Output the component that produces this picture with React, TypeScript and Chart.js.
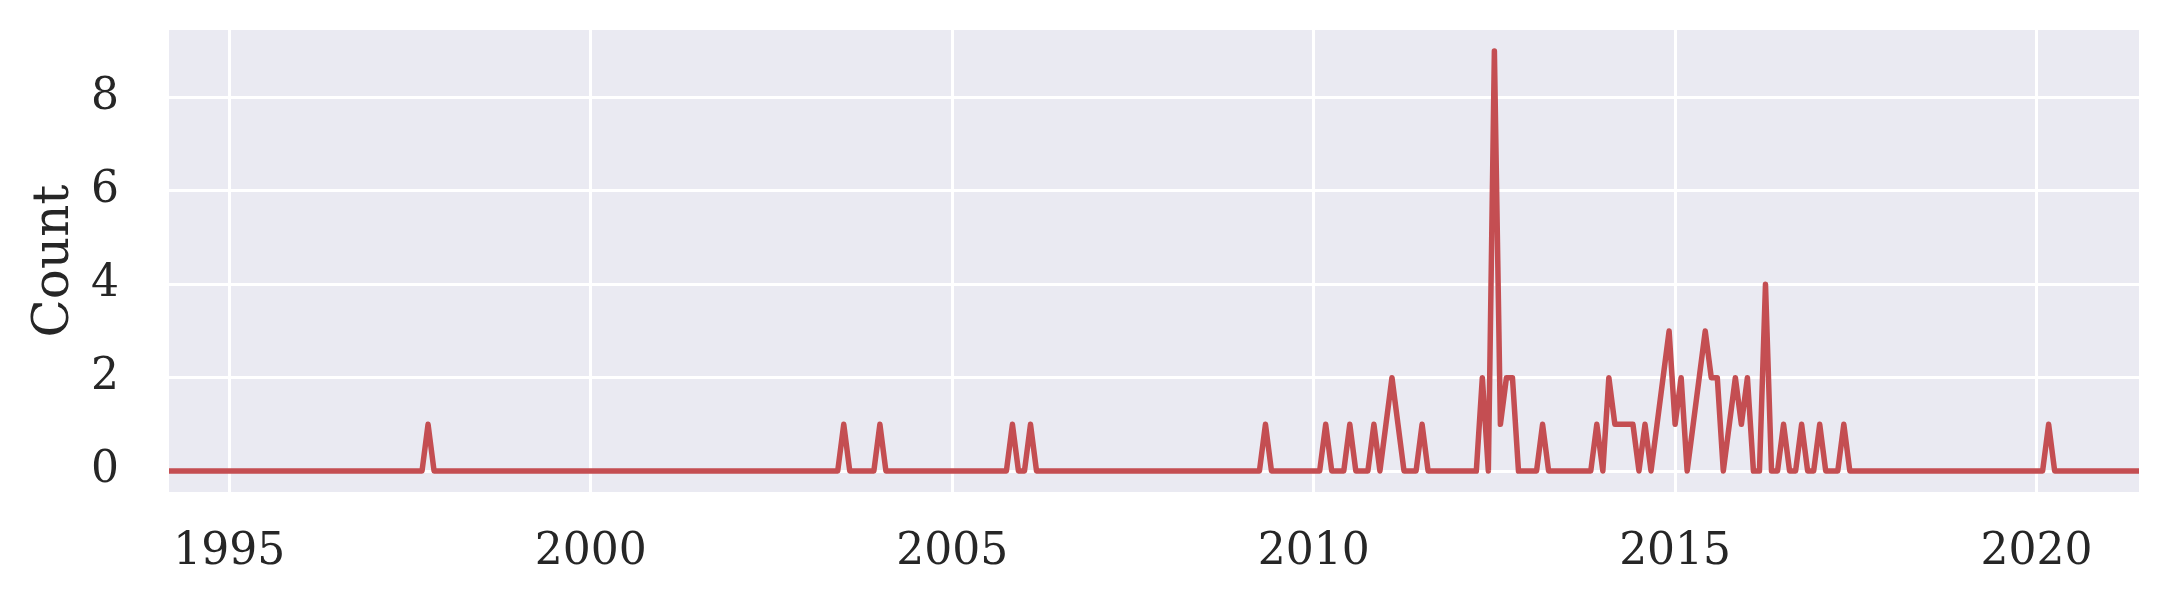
import React, { useEffect, useRef } from 'react';
import { Chart, registerables } from 'chart.js';

Chart.register(...registerables);

// Monthly counts: first and last month shown, and the months with non-zero counts
const startMonth = '1994-03';
const endMonth = '2021-06';
const eventMonths = [
  '1997-10', '2003-07', '2004-01', '2005-11', '2006-02', '2009-05',
  '2010-03', '2010-07', '2010-11', '2011-01', '2011-02', '2011-03', '2011-07',
  '2012-05', '2012-07', '2012-08', '2012-09', '2012-10', '2013-03', '2013-12',
  '2014-02', '2014-03', '2014-04', '2014-05', '2014-06', '2014-08', '2014-10',
  '2014-11', '2014-12', '2015-01', '2015-02', '2015-04', '2015-05', '2015-06',
  '2015-07', '2015-08', '2015-10', '2015-11', '2015-12', '2016-01', '2016-04',
  '2016-07', '2016-10', '2017-01', '2017-05', '2020-03',
];
const eventCounts = [
  1, 1, 1, 1, 1, 1,
  1, 1, 1, 1, 2, 1, 1,
  2, 9, 1, 2, 2, 1, 1,
  2, 1, 1, 1, 1, 1, 1,
  2, 3, 1, 2, 1, 2, 3,
  2, 2, 1, 2, 1, 2, 4,
  1, 1, 1, 1, 1,
];
const xTickYears = [1995, 2000, 2005, 2010, 2015, 2020];
const yTickValues = [0, 2, 4, 6, 8];
const yAxisTitle = 'Count';

const BASE_YEAR = 1995;
function monthIndex(s: string): number {
  const [y, m] = s.split('-').map(Number);
  return (y - BASE_YEAR) * 12 + (m - 1);
}

const FONT = 'DejaVu Serif';
const TEXT = '#262626';

const bgPlugin = {
  id: 'axesBg',
  beforeDraw(chart: any) {
    const { ctx, chartArea } = chart;
    ctx.save();
    ctx.fillStyle = '#ffffff';
    ctx.fillRect(0, 0, chart.width, chart.height);
    ctx.fillStyle = '#EAEAF2';
    ctx.fillRect(chartArea.left, chartArea.top, chartArea.right - chartArea.left, chartArea.bottom - chartArea.top);
    ctx.restore();
  },
};

export default function App() {
  const ref = useRef<HTMLCanvasElement>(null);

  useEffect(() => {
    const lookup = new Map<number, number>();
    eventMonths.forEach((m, i) => lookup.set(monthIndex(m), eventCounts[i]));
    const first = monthIndex(startMonth);
    const last = monthIndex(endMonth);
    const points: { x: number; y: number }[] = [];
    for (let i = first; i <= last; i++) {
      points.push({ x: i, y: lookup.get(i) ?? 0 });
    }

    const chart = new Chart(ref.current!, {
      type: 'line',
      data: {
        datasets: [
          {
            data: points,
            borderColor: '#C44E52',
            borderWidth: 5.5,
            pointRadius: 0,
            tension: 0,
            fill: false,
            borderJoinStyle: 'round',
            borderCapStyle: 'butt',
          },
        ],
      },
      options: {
        animation: false,
        responsive: false,
        devicePixelRatio: 1,
        layout: { padding: { left: 0, top: 30, right: 32, bottom: 0 } },
        plugins: { legend: { display: false }, tooltip: { enabled: false } },
        scales: {
          x: {
            type: 'linear',
            min: first,
            max: last,
            afterBuildTicks: (s: any) => {
              s.ticks = xTickYears.map((y) => ({ value: (y - BASE_YEAR) * 12 }));
            },
            afterFit: (s: any) => {
              s.height = 114;
              s.paddingLeft = 0;
              s.paddingRight = 0;
            },
            ticks: {
              callback: (v: any) => String(BASE_YEAR + Math.round(Number(v) / 12)),
              font: { family: FONT, size: 44 },
              color: TEXT,
              padding: 34,
              maxRotation: 0,
              autoSkip: false,
            },
            grid: { color: '#ffffff', lineWidth: 3, drawTicks: false },
            border: { display: false },
          },
          y: {
            min: -0.45,
            max: 9.45,
            afterBuildTicks: (s: any) => {
              s.ticks = yTickValues.map((v) => ({ value: v }));
            },
            afterFit: (s: any) => {
              s.width = 169;
              s.paddingTop = 0;
              s.paddingBottom = 0;
            },
            ticks: {
              callback: (v: any) => String(v),
              font: { family: FONT, size: 44 },
              color: TEXT,
              padding: 50,
            },
            grid: { color: '#ffffff', lineWidth: 3, drawTicks: false },
            border: { display: false },
            title: {
              display: true,
              text: yAxisTitle,
              font: { family: FONT, size: 50 },
              color: TEXT,
              padding: { top: 25, bottom: 0 },
            },
          },
        },
      },
      plugins: [bgPlugin],
    } as any);

    return () => chart.destroy();
  }, []);

  return (
    <div style={{ position: 'fixed', left: 0, top: 0, width: 2171, height: 606, background: '#fff' }}>
      <canvas ref={ref} width={2171} height={606} style={{ display: 'block', width: 2171, height: 606 }} />
    </div>
  );
}
